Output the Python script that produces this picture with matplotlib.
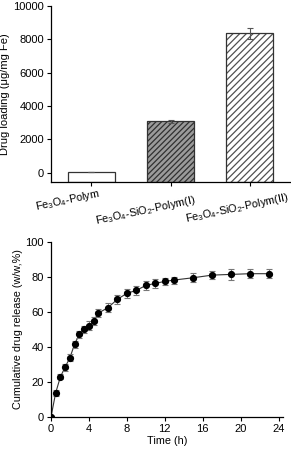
import matplotlib
matplotlib.use('Agg')
from matplotlib import pyplot as plt
from matplotlib.transforms import ScaledTranslation

plt.rcParams['font.family'] = ['Liberation Sans', 'DejaVu Sans']
plt.rcParams['mathtext.fontset'] = 'custom'
plt.rcParams['mathtext.rm'] = 'Liberation Sans'
plt.rcParams['hatch.linewidth'] = 0.9

# top panel: drug loading
samples = [r'Fe$\mathregular{_3}$O$\mathregular{_4}$-Polym',
           r'Fe$\mathregular{_3}$O$\mathregular{_4}$-SiO$\mathregular{_2}$-Polym(I)',
           r'Fe$\mathregular{_3}$O$\mathregular{_4}$-SiO$\mathregular{_2}$-Polym(II)']
loading = [60, 3080, 8360]
loading_err = [0, 110, 330]

# bottom panel: release profile
time_h = [0, 0.5, 1, 1.5, 2, 2.5, 3, 3.5, 4, 4.5, 5, 6, 7, 8, 9, 10, 11, 12, 13, 15, 17, 19, 21, 23]
release = [0, 13.9, 23.1, 28.6, 34.0, 41.7, 47.4, 50.1, 52.2, 54.8, 59.4, 62.4, 67.2, 70.6,
           72.3, 75.1, 76.3, 77.4, 78.2, 79.5, 81.0, 81.4, 81.8, 81.8]
release_err = [0, 1.5, 1.5, 2, 2, 2, 2, 2, 2.5, 2.5, 2.5, 2.5, 2.5, 2.5, 2.5, 2.5, 2.5, 2,
               2, 2.5, 2.5, 3, 2.5, 2.5]

fig = plt.figure(figsize=(2.91, 4.49), dpi=100)

ax1 = fig.add_axes([0.175, 0.595, 0.822, 0.392])
ybot = -540
pos = list(range(len(samples)))
faces = ['white', '#9a9a9a', 'white']
hatches = ['', '//////', '/////']
hcolors = ['black', '#303030', '#505050']
for i in pos:
    ax1.bar(i, loading[i] - ybot, bottom=ybot, width=0.6, color=faces[i],
            edgecolor=hcolors[i], hatch=hatches[i], linewidth=0, zorder=2)
    ax1.bar(i, loading[i] - ybot, bottom=ybot, width=0.6, fill=False,
            edgecolor='#333333', linewidth=0.9, zorder=2.5)
ax1.errorbar(pos, loading, yerr=loading_err, fmt='none', ecolor='#555555',
             elinewidth=0.8, capsize=2.5, capthick=0.8, zorder=3)
ax1.set_xlim(-0.51, 2.51)
ax1.set_ylim(ybot, 10000)
ax1.set_yticks(range(0, 10001, 2000))
ax1.set_xticks(pos)
ax1.set_xticklabels([])
# category labels, shifted left and down like the original figure
offsets = [(-24, -19), (-25, -29), (-13, -26)]
for i, (dx, dy) in zip(pos, offsets):
    tr = ax1.get_xaxis_transform() + ScaledTranslation(dx / 100, dy / 100, fig.dpi_scale_trans)
    ax1.text(i, 0, samples[i], transform=tr, rotation=12, ha='center', va='center',
             fontsize=7.8, rotation_mode='anchor')
ax1.set_ylabel(u'Drug loading (\u03bcg/mg Fe)', fontsize=8, labelpad=2)
ax1.tick_params(axis='y', labelsize=8, length=3, width=0.8, pad=2)
ax1.tick_params(axis='x', length=3, width=0.8, pad=3)
for s in ['top', 'right']:
    ax1.spines[s].set_visible(False)
for s in ['left', 'bottom']:
    ax1.spines[s].set_linewidth(0.9)

ax2 = fig.add_axes([0.175, 0.0706, 0.799, 0.391])
ax2.plot(time_h, release, color='#333333', linewidth=0.8, zorder=2)
ax2.errorbar(time_h, release, yerr=release_err, fmt='none', ecolor='#777777',
             elinewidth=0.8, capsize=2, capthick=0.8, zorder=3)
ax2.plot(time_h, release, 'o', color='black', markersize=4.2, zorder=4)
ax2.set_xlim(0, 24.5)
ax2.set_ylim(0, 100)
ax2.set_xticks(range(0, 25, 4))
ax2.set_yticks(range(0, 101, 20))
ax2.set_xlabel('Time (h)', fontsize=7.8, labelpad=1)
ax2.set_ylabel('Cumulative drug release (w/w,%)', fontsize=7.8, labelpad=2)
ax2.tick_params(labelsize=8, length=3, width=0.8, pad=2)
for s in ['top', 'right']:
    ax2.spines[s].set_visible(False)
for s in ['left', 'bottom']:
    ax2.spines[s].set_linewidth(0.9)

fig.savefig('out.png', dpi=100)
